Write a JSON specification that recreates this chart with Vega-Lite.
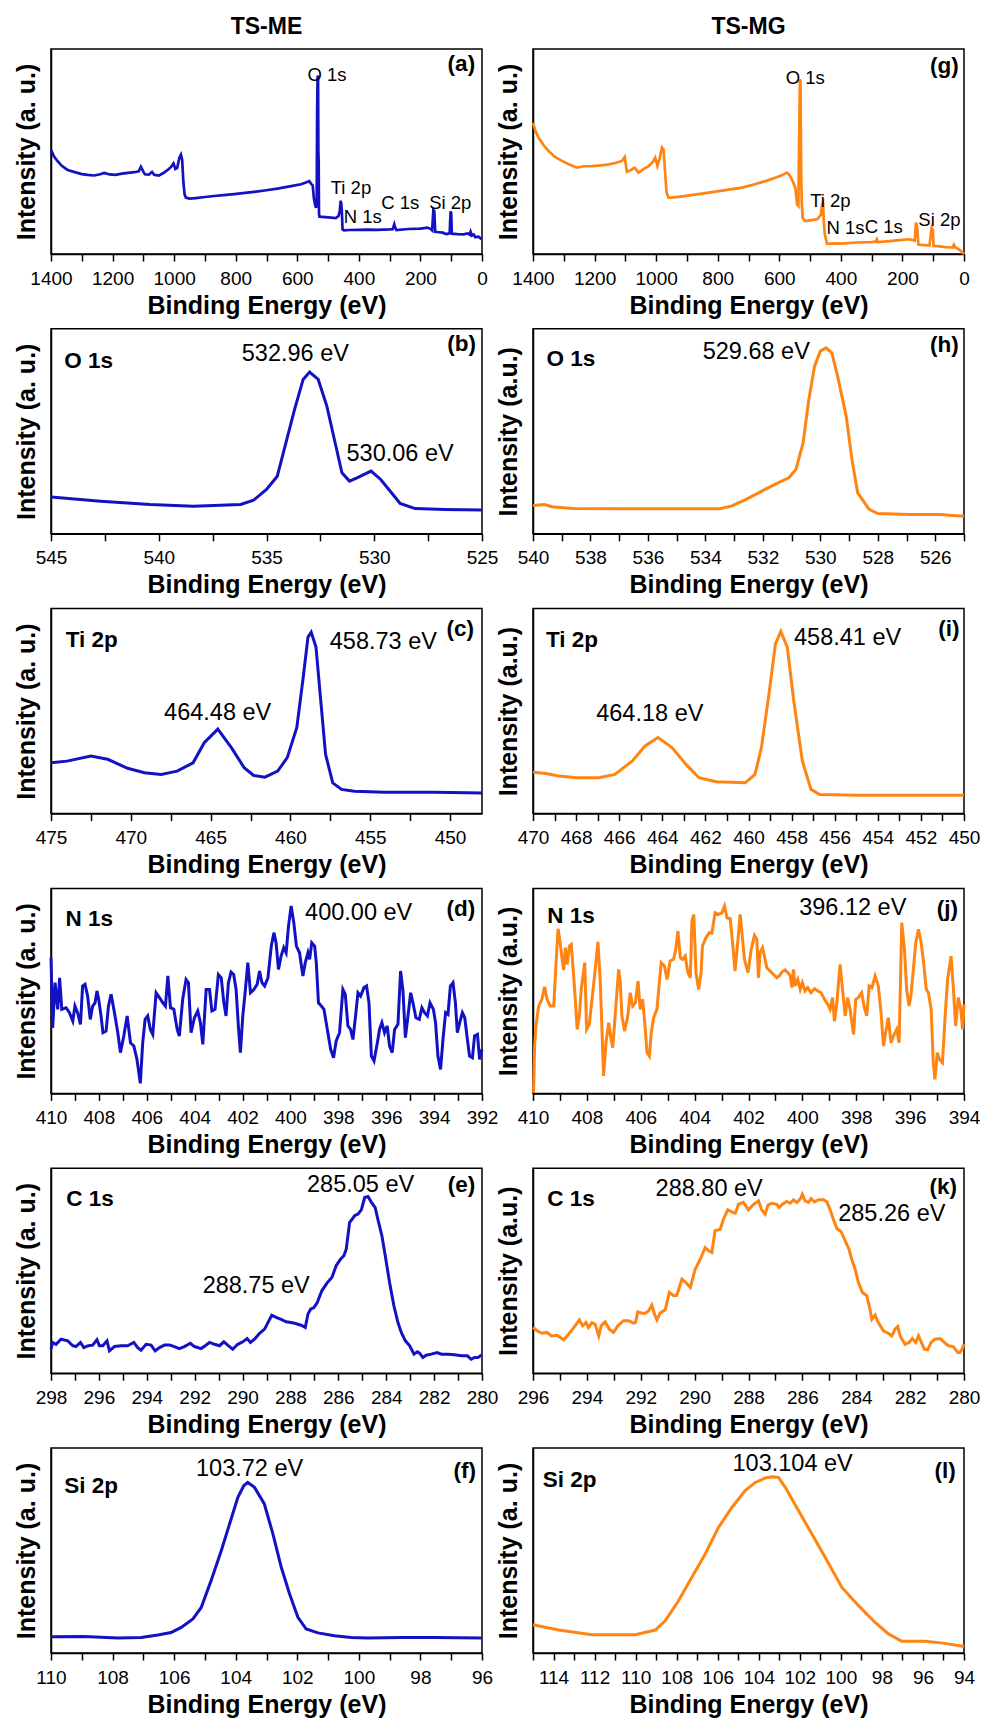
{
"$schema": "https://vega.github.io/schema/vega-lite/v6.json",
"padding": {"left": 13, "top": 15, "right": 0, "bottom": 0},
"background": "white",
"columns": 2,
"spacing": {"row": 74.8, "column": 51},
"bounds": "flush",
"config": {
  "font": "Liberation Sans",
  "view": {"stroke": "black", "strokeWidth": 1.5},
  "axis": {"domainColor": "black", "domainWidth": 1.5, "tickColor": "black", "tickWidth": 1.5, "grid": false, "labelColor": "black", "titleColor": "black", "labelFont": "Liberation Sans", "titleFont": "Liberation Sans"},
  "axisX": {"labelFontSize": 19, "tickSize": 7, "labelPadding": 8, "labelFlush": false, "labelOverlap": false, "titleFontSize": 25, "titleFontWeight": "bold", "titlePadding": 5},
  "axisY": {"labels": false, "ticks": false, "titleFontSize": 25, "titleFontWeight": "bold", "titlePadding": 12},
  "title": {"fontSize": 23, "fontWeight": "bold", "offset": 10, "color": "black", "font": "Liberation Sans"},
  "text": {"font": "Liberation Sans", "color": "black", "align": "center", "baseline": "middle"},
  "line": {"strokeWidth": 3, "clip": true}
},
"datasets": {
"a": [{"x":1400,"y":50.8},{"x":1390,"y":47.5},{"x":1380,"y":45.5},{"x":1365,"y":43},{"x":1346,"y":41},{"x":1320,"y":39.8},{"x":1300,"y":39},{"x":1281,"y":38.6},{"x":1260,"y":38.3},{"x":1240,"y":38.9},{"x":1227,"y":39.5},{"x":1210,"y":38.8},{"x":1190,"y":38.6},{"x":1170,"y":39.2},{"x":1150,"y":39.6},{"x":1129,"y":39.9},{"x":1115,"y":40.3},{"x":1108,"y":42.5},{"x":1100,"y":40.2},{"x":1095,"y":38.9},{"x":1082,"y":38.7},{"x":1072,"y":40.0},{"x":1065,"y":38.6},{"x":1050,"y":38.2},{"x":1035,"y":39.5},{"x":1021,"y":41},{"x":1010,"y":42.5},{"x":1002,"y":44.2},{"x":996,"y":41.5},{"x":990,"y":42},{"x":983,"y":47},{"x":978,"y":48.5},{"x":974,"y":46},{"x":970,"y":35},{"x":966,"y":29},{"x":962,"y":27.5},{"x":950,"y":27},{"x":930,"y":27.3},{"x":900,"y":27.8},{"x":870,"y":28.3},{"x":840,"y":28.7},{"x":805,"y":29.2},{"x":770,"y":29.8},{"x":740,"y":30.3},{"x":700,"y":31.1},{"x":660,"y":32},{"x":620,"y":33.1},{"x":588,"y":34},{"x":570,"y":35},{"x":561,"y":35.5},{"x":555,"y":34.2},{"x":550,"y":33.5},{"x":546,"y":27},{"x":542,"y":24},{"x":539,"y":22.5},{"x":537,"y":25},{"x":535.5,"y":70},{"x":534,"y":87},{"x":532.5,"y":86},{"x":531.5,"y":50},{"x":530.5,"y":45},{"x":529.5,"y":20},{"x":528,"y":18.2},{"x":510,"y":18},{"x":490,"y":17.7},{"x":475,"y":17.5},{"x":466,"y":18.5},{"x":462,"y":21},{"x":459,"y":26},{"x":457,"y":24.5},{"x":455,"y":20},{"x":453,"y":12},{"x":448,"y":11.5},{"x":430,"y":11.7},{"x":400,"y":11.8},{"x":371,"y":11.9},{"x":340,"y":11.8},{"x":300,"y":12},{"x":290,"y":12.1},{"x":285,"y":14.5},{"x":282,"y":12.8},{"x":278,"y":11.7},{"x":240,"y":12.2},{"x":200,"y":12.4},{"x":177,"y":12.9},{"x":168,"y":12.3},{"x":162,"y":11.5},{"x":158,"y":21.5},{"x":155,"y":21},{"x":152,"y":10.8},{"x":140,"y":10.6},{"x":127,"y":10.4},{"x":118,"y":9.8},{"x":113,"y":9.7},{"x":105,"y":10.2},{"x":102,"y":20.8},{"x":100,"y":20},{"x":98,"y":9.9},{"x":80,"y":9.7},{"x":60,"y":9.6},{"x":46,"y":10},{"x":40,"y":9.4},{"x":37,"y":10.8},{"x":33,"y":9},{"x":27,"y":9.5},{"x":22,"y":8.2},{"x":12,"y":8.5},{"x":3,"y":7.5},{"x":0,"y":7.4}],
"g": [{"x":1400,"y":64},{"x":1392,"y":60},{"x":1382,"y":56.7},{"x":1365,"y":53},{"x":1349,"y":50.2},{"x":1330,"y":47.5},{"x":1306,"y":45.4},{"x":1280,"y":43.5},{"x":1257,"y":42.1},{"x":1235,"y":42.8},{"x":1208,"y":42.9},{"x":1180,"y":43.2},{"x":1154,"y":43.7},{"x":1130,"y":44.5},{"x":1111,"y":45.4},{"x":1102,"y":47.3},{"x":1095,"y":40.1},{"x":1082,"y":41},{"x":1070,"y":42.1},{"x":1057,"y":39.7},{"x":1040,"y":41.5},{"x":1024,"y":42.9},{"x":1010,"y":45},{"x":1003,"y":47},{"x":996,"y":43},{"x":988,"y":47},{"x":981,"y":51.9},{"x":976,"y":51},{"x":970,"y":38},{"x":966,"y":30},{"x":960,"y":27.5},{"x":950,"y":27.5},{"x":920,"y":28},{"x":880,"y":28.8},{"x":829,"y":29.9},{"x":780,"y":31},{"x":721,"y":32.4},{"x":680,"y":34},{"x":640,"y":35.8},{"x":613,"y":37.2},{"x":590,"y":38.5},{"x":575,"y":39.7},{"x":567,"y":38.5},{"x":558,"y":36},{"x":548,"y":32.4},{"x":542,"y":24.2},{"x":538,"y":23.5},{"x":536,"y":50},{"x":533,"y":85.2},{"x":531,"y":84},{"x":530,"y":60},{"x":529,"y":40},{"x":527,"y":25},{"x":524,"y":17.7},{"x":516,"y":16.1},{"x":495,"y":16.5},{"x":477,"y":16.9},{"x":465,"y":19},{"x":461,"y":24.2},{"x":458,"y":25},{"x":455,"y":15},{"x":452,"y":9.6},{"x":445,"y":5.0},{"x":420,"y":5.2},{"x":400,"y":5.1},{"x":350,"y":5.6},{"x":300,"y":5.8},{"x":288,"y":6},{"x":283,"y":7.2},{"x":280,"y":5.8},{"x":250,"y":6.2},{"x":210,"y":6.8},{"x":180,"y":7.2},{"x":165,"y":6.8},{"x":160,"y":6.5},{"x":156,"y":15.3},{"x":152,"y":13},{"x":148,"y":4.6},{"x":130,"y":4.3},{"x":112,"y":4.2},{"x":105,"y":12.8},{"x":101,"y":11.5},{"x":99,"y":4},{"x":80,"y":3.7},{"x":60,"y":3.4},{"x":45,"y":3.3},{"x":37,"y":3.1},{"x":33,"y":4.6},{"x":28,"y":3.2},{"x":20,"y":2.6},{"x":10,"y":1.5},{"x":0,"y":0}],
"b": [{"x":545,"y":17.9},{"x":542.7,"y":15.9},{"x":540.4,"y":14.3},{"x":538.4,"y":13.5},{"x":536.2,"y":14.3},{"x":535.6,"y":16.4},{"x":535,"y":21.6},{"x":534.5,"y":28.1},{"x":534.1,"y":44.4},{"x":533.7,"y":60.6},{"x":533.3,"y":75.3},{"x":533.0,"y":78.9},{"x":532.6,"y":75.3},{"x":532.2,"y":62.3},{"x":531.85,"y":46},{"x":531.5,"y":29.8},{"x":531.15,"y":25.7},{"x":530.8,"y":27.3},{"x":530.15,"y":30.6},{"x":529.7,"y":26.5},{"x":529.2,"y":20},{"x":528.8,"y":14.8},{"x":528.1,"y":12.3},{"x":526.75,"y":11.9},{"x":525,"y":11.6}],
"h": [{"x":540,"y":13.8},{"x":539.6,"y":14.3},{"x":539.34,"y":13.2},{"x":538.6,"y":12.3},{"x":536.8,"y":12.2},{"x":533.5,"y":12.2},{"x":533.1,"y":13.5},{"x":532.6,"y":16.7},{"x":532.15,"y":20},{"x":531.6,"y":24},{"x":531.1,"y":27.3},{"x":530.85,"y":31.4},{"x":530.6,"y":44.4},{"x":530.4,"y":65.5},{"x":530.2,"y":81.8},{"x":530.0,"y":89.1},{"x":529.8,"y":90.7},{"x":529.6,"y":88.3},{"x":529.4,"y":76.9},{"x":529.1,"y":57.4},{"x":528.9,"y":36.2},{"x":528.7,"y":20},{"x":528.3,"y":11.9},{"x":528.0,"y":9.9},{"x":526.9,"y":9.4},{"x":525.8,"y":9.4},{"x":525.5,"y":9},{"x":525,"y":8.6}],
"c": [{"x":475,"y":24.8},{"x":474,"y":25.6},{"x":472.5,"y":28.1},{"x":471.45,"y":26.5},{"x":470.2,"y":22.1},{"x":469.15,"y":19.9},{"x":468.1,"y":19.1},{"x":467.1,"y":20.7},{"x":466.1,"y":24.8},{"x":465.4,"y":34.6},{"x":464.55,"y":41.2},{"x":463.7,"y":32.2},{"x":462.9,"y":22.4},{"x":462.3,"y":18.6},{"x":461.6,"y":17.8},{"x":460.8,"y":20.7},{"x":460.2,"y":27.3},{"x":459.6,"y":42},{"x":459.2,"y":66.5},{"x":458.9,"y":86.1},{"x":458.7,"y":88.5},{"x":458.4,"y":81.2},{"x":458.1,"y":55},{"x":457.8,"y":28.9},{"x":457.35,"y":15},{"x":456.8,"y":11.8},{"x":456.0,"y":10.9},{"x":454.1,"y":10.4},{"x":451,"y":10.4},{"x":448,"y":10.1}],
"i": [{"x":470,"y":20.2},{"x":469.4,"y":19.6},{"x":468.8,"y":18.3},{"x":468.0,"y":17.5},{"x":466.95,"y":17.5},{"x":466.2,"y":19.1},{"x":465.4,"y":25.6},{"x":464.8,"y":33},{"x":464.2,"y":37.1},{"x":463.55,"y":32.2},{"x":462.9,"y":24},{"x":462.3,"y":17.5},{"x":461.5,"y":15.5},{"x":460.15,"y":15},{"x":459.7,"y":19.1},{"x":459.4,"y":32.2},{"x":459.05,"y":58.3},{"x":458.75,"y":82.8},{"x":458.5,"y":88.9},{"x":458.2,"y":81.2},{"x":457.9,"y":55},{"x":457.5,"y":25.6},{"x":457.1,"y":11.8},{"x":456.7,"y":9.3},{"x":454.9,"y":9},{"x":450,"y":9}],
"d": [{"x":410.00,"y":66.2},{"x":409.93,"y":32.0},{"x":409.83,"y":54.0},{"x":409.72,"y":41.0},{"x":409.64,"y":56.4},{"x":409.55,"y":41.0},{"x":409.37,"y":41.8},{"x":409.23,"y":39.4},{"x":409.09,"y":35.3},{"x":409.00,"y":42.6},{"x":408.89,"y":39.4},{"x":408.77,"y":33.7},{"x":408.68,"y":52.4},{"x":408.58,"y":53.2},{"x":408.47,"y":47.5},{"x":408.36,"y":36.1},{"x":408.26,"y":42.6},{"x":408.16,"y":44.2},{"x":408.08,"y":50.0},{"x":408.01,"y":45.9},{"x":407.91,"y":37.8},{"x":407.83,"y":29.6},{"x":407.70,"y":30.4},{"x":407.60,"y":42.6},{"x":407.49,"y":48.3},{"x":407.35,"y":39.4},{"x":407.21,"y":29.6},{"x":407.10,"y":19.9},{"x":406.96,"y":28.0},{"x":406.82,"y":37.8},{"x":406.68,"y":24.7},{"x":406.54,"y":23.1},{"x":406.41,"y":16.6},{"x":406.27,"y":4.9},{"x":406.17,"y":24.7},{"x":406.07,"y":36.1},{"x":405.96,"y":37.8},{"x":405.85,"y":31.2},{"x":405.75,"y":28.8},{"x":405.61,"y":49.1},{"x":405.47,"y":46.7},{"x":405.33,"y":44.2},{"x":405.22,"y":42.6},{"x":405.12,"y":57.3},{"x":405.01,"y":41.8},{"x":404.87,"y":41.0},{"x":404.73,"y":31.2},{"x":404.64,"y":28.0},{"x":404.50,"y":45.9},{"x":404.36,"y":55.6},{"x":404.26,"y":54.0},{"x":404.15,"y":29.6},{"x":404.01,"y":36.9},{"x":403.87,"y":40.2},{"x":403.76,"y":34.5},{"x":403.66,"y":23.9},{"x":403.52,"y":50.7},{"x":403.38,"y":50.7},{"x":403.28,"y":40.2},{"x":403.15,"y":41.0},{"x":403.01,"y":58.0},{"x":402.89,"y":56.4},{"x":402.78,"y":44.2},{"x":402.69,"y":37.8},{"x":402.59,"y":54.0},{"x":402.48,"y":59.2},{"x":402.37,"y":58.0},{"x":402.27,"y":50.7},{"x":402.17,"y":32.0},{"x":402.09,"y":19.9},{"x":401.99,"y":37.8},{"x":401.88,"y":50.7},{"x":401.78,"y":63.8},{"x":401.67,"y":49.1},{"x":401.53,"y":50.7},{"x":401.39,"y":53.2},{"x":401.29,"y":59.7},{"x":401.19,"y":54.0},{"x":401.08,"y":52.4},{"x":400.94,"y":56.4},{"x":400.80,"y":71.9},{"x":400.69,"y":78.4},{"x":400.60,"y":73.5},{"x":400.50,"y":60.5},{"x":400.39,"y":67.0},{"x":400.28,"y":71.1},{"x":400.18,"y":68.6},{"x":400.08,"y":81.7},{"x":399.97,"y":91.4},{"x":399.86,"y":83.3},{"x":399.75,"y":71.9},{"x":399.62,"y":68.6},{"x":399.48,"y":57.3},{"x":399.38,"y":63.8},{"x":399.27,"y":68.6},{"x":399.20,"y":65.4},{"x":399.11,"y":73.5},{"x":398.99,"y":71.9},{"x":398.92,"y":63.8},{"x":398.83,"y":44.2},{"x":398.71,"y":42.6},{"x":398.60,"y":41.0},{"x":398.46,"y":31.2},{"x":398.32,"y":21.5},{"x":398.20,"y":17.4},{"x":398.09,"y":25.6},{"x":397.95,"y":29.6},{"x":397.81,"y":50.7},{"x":397.71,"y":48.3},{"x":397.60,"y":32.9},{"x":397.49,"y":31.2},{"x":397.39,"y":26.3},{"x":397.28,"y":37.8},{"x":397.18,"y":49.1},{"x":397.07,"y":47.5},{"x":396.93,"y":51.6},{"x":396.82,"y":52.4},{"x":396.72,"y":44.2},{"x":396.62,"y":18.2},{"x":396.51,"y":15.8},{"x":396.37,"y":24.7},{"x":396.28,"y":31.2},{"x":396.18,"y":34.5},{"x":396.07,"y":29.6},{"x":395.96,"y":32.9},{"x":395.86,"y":23.1},{"x":395.75,"y":19.9},{"x":395.65,"y":31.2},{"x":395.51,"y":33.7},{"x":395.40,"y":59.7},{"x":395.30,"y":50.0},{"x":395.20,"y":27.2},{"x":395.09,"y":37.8},{"x":394.98,"y":49.1},{"x":394.87,"y":43.4},{"x":394.76,"y":36.9},{"x":394.62,"y":36.1},{"x":394.51,"y":41.8},{"x":394.40,"y":39.4},{"x":394.28,"y":37.8},{"x":394.17,"y":44.2},{"x":394.03,"y":41.0},{"x":393.94,"y":34.5},{"x":393.84,"y":18.2},{"x":393.73,"y":11.7},{"x":393.63,"y":26.3},{"x":393.52,"y":39.4},{"x":393.42,"y":38.5},{"x":393.32,"y":52.4},{"x":393.21,"y":54.0},{"x":393.11,"y":44.2},{"x":393.03,"y":29.6},{"x":392.93,"y":34.5},{"x":392.82,"y":39.4},{"x":392.72,"y":36.9},{"x":392.61,"y":26.3},{"x":392.52,"y":18.2},{"x":392.40,"y":17.4},{"x":392.31,"y":28.0},{"x":392.19,"y":28.8},{"x":392.10,"y":16.6},{"x":392.00,"y":21.5}],
"j": [{"x":409.98,"y":0.3},{"x":409.94,"y":23.1},{"x":409.89,"y":32.9},{"x":409.79,"y":42.6},{"x":409.67,"y":45.9},{"x":409.57,"y":52.0},{"x":409.48,"y":45.9},{"x":409.36,"y":42.6},{"x":409.23,"y":42.6},{"x":409.15,"y":62.1},{"x":409.07,"y":80.3},{"x":408.99,"y":73.5},{"x":408.92,"y":65.4},{"x":408.86,"y":60.2},{"x":408.80,"y":71.1},{"x":408.73,"y":62.9},{"x":408.65,"y":71.9},{"x":408.58,"y":72.7},{"x":408.50,"y":58.9},{"x":408.43,"y":45.9},{"x":408.36,"y":31.2},{"x":408.28,"y":37.8},{"x":408.21,"y":50.7},{"x":408.08,"y":63.8},{"x":408.01,"y":31.2},{"x":407.91,"y":33.7},{"x":407.81,"y":45.9},{"x":407.69,"y":60.5},{"x":407.59,"y":73.9},{"x":407.50,"y":54.0},{"x":407.38,"y":8.5},{"x":407.29,"y":24.7},{"x":407.19,"y":34.5},{"x":407.12,"y":28.0},{"x":407.04,"y":22.3},{"x":406.95,"y":37.8},{"x":406.82,"y":60.5},{"x":406.76,"y":54.0},{"x":406.70,"y":37.8},{"x":406.60,"y":30.4},{"x":406.48,"y":37.8},{"x":406.39,"y":49.1},{"x":406.30,"y":42.6},{"x":406.20,"y":44.2},{"x":406.10,"y":54.8},{"x":406.02,"y":41.0},{"x":405.93,"y":45.9},{"x":405.83,"y":31.2},{"x":405.77,"y":19.9},{"x":405.68,"y":18.2},{"x":405.61,"y":29.6},{"x":405.52,"y":36.9},{"x":405.40,"y":41.0},{"x":405.31,"y":54.0},{"x":405.24,"y":63.8},{"x":405.12,"y":62.1},{"x":405.02,"y":55.6},{"x":404.91,"y":64.6},{"x":404.78,"y":65.4},{"x":404.70,"y":70.2},{"x":404.62,"y":79.2},{"x":404.53,"y":66.2},{"x":404.45,"y":65.4},{"x":404.35,"y":67.0},{"x":404.25,"y":58.9},{"x":404.16,"y":56.4},{"x":404.10,"y":84.1},{"x":404.03,"y":87.3},{"x":403.95,"y":58.9},{"x":403.85,"y":50.7},{"x":403.76,"y":58.9},{"x":403.71,"y":71.9},{"x":403.58,"y":75.9},{"x":403.46,"y":78.4},{"x":403.36,"y":78.1},{"x":403.24,"y":88.1},{"x":403.11,"y":87.3},{"x":402.99,"y":88.1},{"x":402.89,"y":91.4},{"x":402.80,"y":85.7},{"x":402.68,"y":85.2},{"x":402.59,"y":73.5},{"x":402.50,"y":59.7},{"x":402.40,"y":73.5},{"x":402.31,"y":87.3},{"x":402.22,"y":75.1},{"x":402.15,"y":65.4},{"x":402.02,"y":58.9},{"x":401.90,"y":70.2},{"x":401.78,"y":77.1},{"x":401.69,"y":75.1},{"x":401.63,"y":56.4},{"x":401.57,"y":68.6},{"x":401.48,"y":71.1},{"x":401.41,"y":67.0},{"x":401.32,"y":61.3},{"x":401.20,"y":59.7},{"x":401.07,"y":58.0},{"x":400.95,"y":56.4},{"x":400.86,"y":57.3},{"x":400.76,"y":59.2},{"x":400.64,"y":60.2},{"x":400.54,"y":58.9},{"x":400.45,"y":57.3},{"x":400.39,"y":51.6},{"x":400.33,"y":60.5},{"x":400.27,"y":52.4},{"x":400.17,"y":55.6},{"x":400.08,"y":50.7},{"x":400.00,"y":54.0},{"x":399.90,"y":50.0},{"x":399.80,"y":51.6},{"x":399.68,"y":49.1},{"x":399.55,"y":51.1},{"x":399.43,"y":50.0},{"x":399.30,"y":49.1},{"x":399.18,"y":45.9},{"x":399.06,"y":43.4},{"x":398.97,"y":41.0},{"x":398.88,"y":46.7},{"x":398.81,"y":35.3},{"x":398.72,"y":44.2},{"x":398.60,"y":62.9},{"x":398.51,"y":50.7},{"x":398.41,"y":37.8},{"x":398.32,"y":46.7},{"x":398.23,"y":41.0},{"x":398.10,"y":28.8},{"x":398.02,"y":45.9},{"x":397.92,"y":46.7},{"x":397.80,"y":49.1},{"x":397.70,"y":41.8},{"x":397.61,"y":37.8},{"x":397.52,"y":52.4},{"x":397.42,"y":51.6},{"x":397.30,"y":57.3},{"x":397.18,"y":52.4},{"x":397.08,"y":39.4},{"x":396.99,"y":23.1},{"x":396.91,"y":29.6},{"x":396.81,"y":36.9},{"x":396.71,"y":24.7},{"x":396.62,"y":28.0},{"x":396.50,"y":31.2},{"x":396.41,"y":24.7},{"x":396.31,"y":83.3},{"x":396.21,"y":70.2},{"x":396.13,"y":50.7},{"x":396.04,"y":42.6},{"x":395.97,"y":47.5},{"x":395.88,"y":60.5},{"x":395.79,"y":73.5},{"x":395.69,"y":80.0},{"x":395.59,"y":73.5},{"x":395.50,"y":63.8},{"x":395.40,"y":50.7},{"x":395.32,"y":49.1},{"x":395.22,"y":41.0},{"x":395.14,"y":15.0},{"x":395.08,"y":6.8},{"x":394.99,"y":19.9},{"x":394.91,"y":16.6},{"x":394.80,"y":15.0},{"x":394.70,"y":37.8},{"x":394.61,"y":55.6},{"x":394.48,"y":67.0},{"x":394.40,"y":52.4},{"x":394.31,"y":32.9},{"x":394.21,"y":46.7},{"x":394.12,"y":41.0},{"x":394.05,"y":31.2},{"x":394.00,"y":43.4}],
"e": [{"x":298.00,"y":11.7},{"x":297.93,"y":15.0},{"x":297.79,"y":14.1},{"x":297.58,"y":16.6},{"x":297.30,"y":15.8},{"x":297.09,"y":13.4},{"x":296.96,"y":13.0},{"x":296.77,"y":15.0},{"x":296.63,"y":12.5},{"x":296.44,"y":13.4},{"x":296.26,"y":13.7},{"x":296.08,"y":16.3},{"x":295.98,"y":13.4},{"x":295.84,"y":13.4},{"x":295.66,"y":15.8},{"x":295.56,"y":10.9},{"x":295.35,"y":13.0},{"x":295.07,"y":13.4},{"x":294.80,"y":13.4},{"x":294.54,"y":15.0},{"x":294.38,"y":12.5},{"x":294.24,"y":11.2},{"x":294.03,"y":14.1},{"x":293.82,"y":13.7},{"x":293.65,"y":10.9},{"x":293.47,"y":12.5},{"x":293.26,"y":13.7},{"x":293.05,"y":13.7},{"x":292.85,"y":13.0},{"x":292.64,"y":12.0},{"x":292.43,"y":13.0},{"x":292.18,"y":14.6},{"x":292.01,"y":13.0},{"x":291.73,"y":12.0},{"x":291.56,"y":13.4},{"x":291.38,"y":15.0},{"x":291.17,"y":14.1},{"x":290.96,"y":13.4},{"x":290.78,"y":15.3},{"x":290.62,"y":13.7},{"x":290.41,"y":11.7},{"x":290.20,"y":14.1},{"x":289.99,"y":15.3},{"x":289.81,"y":16.9},{"x":289.67,"y":15.0},{"x":289.50,"y":16.6},{"x":289.29,"y":19.5},{"x":289.08,"y":21.5},{"x":288.94,"y":24.7},{"x":288.78,"y":28.3},{"x":288.60,"y":27.2},{"x":288.39,"y":26.3},{"x":288.18,"y":25.1},{"x":287.97,"y":24.7},{"x":287.83,"y":24.4},{"x":287.69,"y":23.9},{"x":287.55,"y":23.4},{"x":287.38,"y":22.3},{"x":287.27,"y":28.8},{"x":287.16,"y":31.2},{"x":287.02,"y":32.0},{"x":286.88,"y":34.5},{"x":286.69,"y":40.2},{"x":286.46,"y":44.2},{"x":286.27,"y":46.7},{"x":286.09,"y":52.4},{"x":285.91,"y":55.6},{"x":285.77,"y":57.3},{"x":285.67,"y":60.5},{"x":285.53,"y":73.5},{"x":285.32,"y":76.8},{"x":285.18,"y":77.6},{"x":285.04,"y":79.7},{"x":284.90,"y":85.7},{"x":284.76,"y":86.2},{"x":284.63,"y":83.6},{"x":284.46,"y":80.8},{"x":284.35,"y":75.1},{"x":284.18,"y":67.0},{"x":284.04,"y":57.3},{"x":283.86,"y":44.2},{"x":283.68,"y":32.9},{"x":283.51,"y":24.7},{"x":283.37,"y":19.9},{"x":283.20,"y":15.8},{"x":283.02,"y":13.4},{"x":282.84,"y":9.3},{"x":282.70,"y":10.4},{"x":282.61,"y":9.8},{"x":282.47,"y":7.7},{"x":282.33,"y":8.8},{"x":282.12,"y":9.3},{"x":281.87,"y":10.1},{"x":281.70,"y":9.3},{"x":281.42,"y":9.3},{"x":281.14,"y":9.0},{"x":280.86,"y":8.5},{"x":280.61,"y":8.5},{"x":280.45,"y":6.8},{"x":280.31,"y":7.7},{"x":280.17,"y":7.7},{"x":280.00,"y":9.0}],
"k": [{"x":296.00,"y":22.3},{"x":295.85,"y":20.7},{"x":295.67,"y":19.5},{"x":295.48,"y":19.9},{"x":295.32,"y":18.2},{"x":295.11,"y":18.5},{"x":294.86,"y":16.3},{"x":294.68,"y":19.0},{"x":294.45,"y":22.8},{"x":294.28,"y":26.0},{"x":294.16,"y":23.1},{"x":294.03,"y":24.7},{"x":293.94,"y":22.3},{"x":293.81,"y":24.7},{"x":293.69,"y":23.9},{"x":293.56,"y":18.2},{"x":293.47,"y":23.1},{"x":293.32,"y":25.1},{"x":293.17,"y":21.5},{"x":293.01,"y":19.9},{"x":292.85,"y":23.1},{"x":292.64,"y":25.6},{"x":292.45,"y":25.6},{"x":292.27,"y":24.4},{"x":292.20,"y":24.7},{"x":292.11,"y":29.9},{"x":291.96,"y":29.3},{"x":291.83,"y":29.3},{"x":291.71,"y":30.4},{"x":291.59,"y":33.2},{"x":291.49,"y":28.8},{"x":291.40,"y":26.0},{"x":291.28,"y":29.3},{"x":291.09,"y":30.9},{"x":290.94,"y":39.4},{"x":290.78,"y":37.8},{"x":290.66,"y":38.0},{"x":290.47,"y":45.9},{"x":290.35,"y":44.6},{"x":290.16,"y":41.8},{"x":289.98,"y":50.7},{"x":289.79,"y":55.6},{"x":289.61,"y":61.3},{"x":289.48,"y":59.7},{"x":289.36,"y":58.9},{"x":289.24,"y":69.5},{"x":289.05,"y":70.2},{"x":288.93,"y":75.1},{"x":288.77,"y":79.7},{"x":288.62,"y":78.7},{"x":288.49,"y":78.0},{"x":288.37,"y":82.4},{"x":288.19,"y":83.3},{"x":288.00,"y":79.7},{"x":287.81,"y":82.4},{"x":287.63,"y":84.1},{"x":287.51,"y":79.7},{"x":287.38,"y":77.6},{"x":287.28,"y":82.0},{"x":287.13,"y":82.9},{"x":286.95,"y":82.4},{"x":286.86,"y":80.8},{"x":286.74,"y":82.4},{"x":286.58,"y":83.8},{"x":286.45,"y":82.9},{"x":286.33,"y":84.6},{"x":286.21,"y":83.3},{"x":286.08,"y":84.9},{"x":286.00,"y":87.3},{"x":285.90,"y":84.1},{"x":285.77,"y":83.3},{"x":285.68,"y":85.2},{"x":285.55,"y":83.6},{"x":285.40,"y":84.6},{"x":285.22,"y":84.6},{"x":285.09,"y":83.6},{"x":284.97,"y":79.7},{"x":284.85,"y":75.1},{"x":284.72,"y":70.6},{"x":284.56,"y":69.0},{"x":284.41,"y":64.6},{"x":284.27,"y":60.5},{"x":284.17,"y":55.6},{"x":284.04,"y":50.7},{"x":283.92,"y":44.2},{"x":283.77,"y":39.4},{"x":283.61,"y":37.8},{"x":283.52,"y":32.9},{"x":283.42,"y":26.3},{"x":283.30,"y":28.3},{"x":283.18,"y":24.7},{"x":282.99,"y":20.7},{"x":282.81,"y":19.5},{"x":282.68,"y":18.2},{"x":282.56,"y":21.5},{"x":282.46,"y":22.8},{"x":282.37,"y":18.2},{"x":282.29,"y":16.3},{"x":282.19,"y":14.1},{"x":282.04,"y":15.0},{"x":281.92,"y":16.9},{"x":281.79,"y":15.0},{"x":281.69,"y":18.2},{"x":281.59,"y":15.3},{"x":281.47,"y":11.7},{"x":281.35,"y":11.4},{"x":281.22,"y":15.0},{"x":281.08,"y":16.6},{"x":280.89,"y":16.9},{"x":280.73,"y":15.0},{"x":280.58,"y":13.4},{"x":280.40,"y":13.0},{"x":280.23,"y":10.1},{"x":280.15,"y":10.1},{"x":280.06,"y":12.0},{"x":280.00,"y":14.1}],
"f": [{"x":110.00,"y":7.95},{"x":108.92,"y":8.1},{"x":107.83,"y":7.3},{"x":107.07,"y":7.6},{"x":106.53,"y":8.8},{"x":106.10,"y":10.0},{"x":105.77,"y":12.5},{"x":105.39,"y":16.6},{"x":105.12,"y":22.2},{"x":104.80,"y":35.3},{"x":104.47,"y":49.9},{"x":104.20,"y":62.9},{"x":103.93,"y":75.9},{"x":103.74,"y":81.6},{"x":103.61,"y":83.2},{"x":103.39,"y":80.8},{"x":103.07,"y":72.7},{"x":102.79,"y":58.0},{"x":102.52,"y":41.8},{"x":102.25,"y":28.8},{"x":101.98,"y":17.4},{"x":101.71,"y":11.7},{"x":101.33,"y":9.8},{"x":100.79,"y":8.4},{"x":100.25,"y":7.6},{"x":99.71,"y":7.3},{"x":98.62,"y":7.6},{"x":97.54,"y":7.6},{"x":96.00,"y":7.3}],
"l": [{"x":115.00,"y":13.8},{"x":113.75,"y":11.2},{"x":112.13,"y":8.9},{"x":110.02,"y":8.9},{"x":109.04,"y":11.2},{"x":108.55,"y":15.8},{"x":107.91,"y":25.5},{"x":107.26,"y":36.9},{"x":106.61,"y":48.3},{"x":105.96,"y":61.3},{"x":105.31,"y":71.0},{"x":104.66,"y":79.2},{"x":104.17,"y":83.2},{"x":103.68,"y":85.4},{"x":103.36,"y":86.0},{"x":103.04,"y":85.7},{"x":102.71,"y":80.8},{"x":102.06,"y":69.4},{"x":101.41,"y":58.0},{"x":100.76,"y":46.6},{"x":99.95,"y":32.0},{"x":99.14,"y":23.1},{"x":98.33,"y":14.9},{"x":97.68,"y":9.3},{"x":97.03,"y":5.7},{"x":95.89,"y":5.7},{"x":94.92,"y":4.7},{"x":94.00,"y":3.2}],
"a_r": [{"x":503.6,"y":87.3,"t":"O 1s"},{"x":425.6,"y":32.0,"t":"Ti 2p"},{"x":387.7,"y":18.1,"t":"N 1s"},{"x":265.5,"y":24.7,"t":"C 1s"},{"x":103,"y":24.7,"t":"Si 2p"}],
"a_b": [{"x":67,"y":92.5,"t":"(a)"}],
"g_r": [{"x":515.6,"y":86,"t":"O 1s"},{"x":434,"y":25.9,"t":"Ti 2p"},{"x":385,"y":12.5,"t":"N 1s"},{"x":261,"y":13.2,"t":"C 1s"},{"x":80,"y":16.4,"t":"Si 2p"}],
"g_b": [{"x":64,"y":91.7,"t":"(g)"}],
"b_r": [{"x":533.66,"y":87.5,"t":"532.96 eV"},{"x":528.8,"y":38.7,"t":"530.06 eV"}],
"b_b": [{"x":543.25,"y":84.5,"t":"O 1s"},{"x":525.95,"y":92.7,"t":"(b)"}],
"h_r": [{"x":532.23,"y":88.8,"t":"529.68 eV"}],
"h_b": [{"x":538.68,"y":85.4,"t":"O 1s"},{"x":525.68,"y":92.3,"t":"(h)"}],
"c_r": [{"x":464.56,"y":49.3,"t":"464.48 eV"},{"x":454.18,"y":83.6,"t":"458.73 eV"}],
"c_b": [{"x":472.45,"y":84.5,"t":"Ti 2p"},{"x":449.36,"y":90.2,"t":"(c)"}],
"i_r": [{"x":464.58,"y":48.5,"t":"464.18 eV"},{"x":455.4,"y":85.8,"t":"458.41 eV"}],
"i_b": [{"x":468.19,"y":84.5,"t":"Ti 2p"},{"x":450.7,"y":90.2,"t":"(i)"}],
"d_r": [{"x":397.15,"y":88.1,"t":"400.00 eV"}],
"d_b": [{"x":408.4,"y":85.2,"t":"N 1s"},{"x":392.88,"y":89.8,"t":"(d)"}],
"j_r": [{"x":398.13,"y":90.2,"t":"396.12 eV"}],
"j_b": [{"x":408.59,"y":86.5,"t":"N 1s"},{"x":394.62,"y":90.1,"t":"(j)"}],
"e_r": [{"x":285.07,"y":91.7,"t":"285.05 eV"},{"x":289.43,"y":42.6,"t":"288.75 eV"}],
"e_b": [{"x":296.37,"y":85.2,"t":"C 1s"},{"x":280.86,"y":91.7,"t":"(e)"}],
"k_r": [{"x":289.46,"y":89.8,"t":"288.80 eV"},{"x":282.68,"y":77.9,"t":"285.26 eV"}],
"k_b": [{"x":294.59,"y":85.0,"t":"C 1s"},{"x":280.77,"y":90.9,"t":"(k)"}],
"f_r": [{"x":103.55,"y":89.8,"t":"103.72 eV"}],
"f_b": [{"x":108.70,"y":81.6,"t":"Si 2p"},{"x":96.56,"y":88.9,"t":"(f)"}],
"l_r": [{"x":102.35,"y":92.2,"t":"103.104 eV"}],
"l_b": [{"x":113.21,"y":84.5,"t":"Si 2p"},{"x":94.92,"y":88.9,"t":"(l)"}]
},
"concat": [
{"title": "TS-ME", "width": 431, "height": 205,
 "encoding": {"x": {"field": "x", "type": "quantitative", "scale": {"domain": [0, 1400], "reverse": true, "nice": false, "zero": false}, "axis": {"title": "Binding Energy (eV)", "values": [0,100,200,300,400,500,600,700,800,900,1000,1100,1200,1300,1400], "format": "d", "labelExpr": "datum.value % 200 === 0 ? datum.label : ''"}},
  "y": {"field": "y", "type": "quantitative", "scale": {"domain": [0, 100], "nice": false, "zero": false}, "axis": {"title": "Intensity (a. u.)"}}},
 "layer": [
  {"data": {"name": "a"}, "mark": {"type": "line", "color": "#1212c4", "strokeWidth": 2.7}, "encoding": {}},
  {"data": {"name": "a_r"}, "mark": {"type": "text", "fontSize": 18.5}, "encoding": {"text": {"field": "t"}}},
  {"data": {"name": "a_b"}, "mark": {"type": "text", "fontSize": 22.5, "fontWeight": "bold"}, "encoding": {"text": {"field": "t"}}}
 ]},
{"title": "TS-MG", "width": 431, "height": 205,
 "encoding": {"x": {"field": "x", "type": "quantitative", "scale": {"domain": [0, 1400], "reverse": true, "nice": false, "zero": false}, "axis": {"title": "Binding Energy (eV)", "values": [0,100,200,300,400,500,600,700,800,900,1000,1100,1200,1300,1400], "format": "d", "labelExpr": "datum.value % 200 === 0 ? datum.label : ''"}},
  "y": {"field": "y", "type": "quantitative", "scale": {"domain": [0, 100], "nice": false, "zero": false}, "axis": {"title": "Intensity (a. u.)"}}},
 "layer": [
  {"data": {"name": "g"}, "mark": {"type": "line", "color": "#ff8412", "strokeWidth": 2.7}, "encoding": {}},
  {"data": {"name": "g_r"}, "mark": {"type": "text", "fontSize": 18.5}, "encoding": {"text": {"field": "t"}}},
  {"data": {"name": "g_b"}, "mark": {"type": "text", "fontSize": 22.5, "fontWeight": "bold"}, "encoding": {"text": {"field": "t"}}}
 ]},
{"width": 431, "height": 205,
 "encoding": {"x": {"field": "x", "type": "quantitative", "scale": {"domain": [525, 545], "reverse": true, "nice": false, "zero": false}, "axis": {"title": "Binding Energy (eV)", "values": [525,527.5,530,532.5,535,537.5,540,542.5,545], "format": "d", "labelExpr": "datum.value % 5 === 0 ? datum.label : ''"}},
  "y": {"field": "y", "type": "quantitative", "scale": {"domain": [0, 100], "nice": false, "zero": false}, "axis": {"title": "Intensity (a. u.)"}}},
 "layer": [
  {"data": {"name": "b"}, "mark": {"type": "line", "color": "#1212c4"}, "encoding": {}},
  {"data": {"name": "b_r"}, "mark": {"type": "text", "fontSize": 23.5}, "encoding": {"text": {"field": "t"}}},
  {"data": {"name": "b_b"}, "mark": {"type": "text", "fontSize": 22.5, "fontWeight": "bold"}, "encoding": {"text": {"field": "t"}}}
 ]},
{"width": 431, "height": 205,
 "encoding": {"x": {"field": "x", "type": "quantitative", "scale": {"domain": [525, 540], "reverse": true, "nice": false, "zero": false}, "axis": {"title": "Binding Energy (eV)", "values": [525,526,527,528,529,530,531,532,533,534,535,536,537,538,539,540], "format": "d", "labelExpr": "datum.value % 2 === 0 ? datum.label : ''"}},
  "y": {"field": "y", "type": "quantitative", "scale": {"domain": [0, 100], "nice": false, "zero": false}, "axis": {"title": "Intensity (a.u.)"}}},
 "layer": [
  {"data": {"name": "h"}, "mark": {"type": "line", "color": "#ff8412"}, "encoding": {}},
  {"data": {"name": "h_r"}, "mark": {"type": "text", "fontSize": 23.5}, "encoding": {"text": {"field": "t"}}},
  {"data": {"name": "h_b"}, "mark": {"type": "text", "fontSize": 22.5, "fontWeight": "bold"}, "encoding": {"text": {"field": "t"}}}
 ]},
{"width": 431, "height": 205,
 "encoding": {"x": {"field": "x", "type": "quantitative", "scale": {"domain": [448, 475], "reverse": true, "nice": false, "zero": false}, "axis": {"title": "Binding Energy (eV)", "values": [450,452.5,455,457.5,460,462.5,465,467.5,470,472.5,475], "format": "d", "labelExpr": "datum.value % 5 === 0 ? datum.label : ''"}},
  "y": {"field": "y", "type": "quantitative", "scale": {"domain": [0, 100], "nice": false, "zero": false}, "axis": {"title": "Intensity (a. u.)"}}},
 "layer": [
  {"data": {"name": "c"}, "mark": {"type": "line", "color": "#1212c4"}, "encoding": {}},
  {"data": {"name": "c_r"}, "mark": {"type": "text", "fontSize": 23.5}, "encoding": {"text": {"field": "t"}}},
  {"data": {"name": "c_b"}, "mark": {"type": "text", "fontSize": 22.5, "fontWeight": "bold"}, "encoding": {"text": {"field": "t"}}}
 ]},
{"width": 431, "height": 205,
 "encoding": {"x": {"field": "x", "type": "quantitative", "scale": {"domain": [450, 470], "reverse": true, "nice": false, "zero": false}, "axis": {"title": "Binding Energy (eV)", "values": [450,451,452,453,454,455,456,457,458,459,460,461,462,463,464,465,466,467,468,469,470], "format": "d", "labelExpr": "datum.value % 2 === 0 ? datum.label : ''"}},
  "y": {"field": "y", "type": "quantitative", "scale": {"domain": [0, 100], "nice": false, "zero": false}, "axis": {"title": "Intensity (a.u.)"}}},
 "layer": [
  {"data": {"name": "i"}, "mark": {"type": "line", "color": "#ff8412"}, "encoding": {}},
  {"data": {"name": "i_r"}, "mark": {"type": "text", "fontSize": 23.5}, "encoding": {"text": {"field": "t"}}},
  {"data": {"name": "i_b"}, "mark": {"type": "text", "fontSize": 22.5, "fontWeight": "bold"}, "encoding": {"text": {"field": "t"}}}
 ]},
{"width": 431, "height": 205,
 "encoding": {"x": {"field": "x", "type": "quantitative", "scale": {"domain": [392, 410], "reverse": true, "nice": false, "zero": false}, "axis": {"title": "Binding Energy (eV)", "values": [392,393,394,395,396,397,398,399,400,401,402,403,404,405,406,407,408,409,410], "format": "d", "labelExpr": "datum.value % 2 === 0 ? datum.label : ''"}},
  "y": {"field": "y", "type": "quantitative", "scale": {"domain": [0, 100], "nice": false, "zero": false}, "axis": {"title": "Intensity (a. u.)"}}},
 "layer": [
  {"data": {"name": "d"}, "mark": {"type": "line", "color": "#1212c4"}, "encoding": {}},
  {"data": {"name": "d_r"}, "mark": {"type": "text", "fontSize": 23.5}, "encoding": {"text": {"field": "t"}}},
  {"data": {"name": "d_b"}, "mark": {"type": "text", "fontSize": 22.5, "fontWeight": "bold"}, "encoding": {"text": {"field": "t"}}}
 ]},
{"width": 431, "height": 205,
 "encoding": {"x": {"field": "x", "type": "quantitative", "scale": {"domain": [394, 410], "reverse": true, "nice": false, "zero": false}, "axis": {"title": "Binding Energy (eV)", "values": [394,395,396,397,398,399,400,401,402,403,404,405,406,407,408,409,410], "format": "d", "labelExpr": "datum.value % 2 === 0 ? datum.label : ''"}},
  "y": {"field": "y", "type": "quantitative", "scale": {"domain": [0, 100], "nice": false, "zero": false}, "axis": {"title": "Intensity (a.u.)"}}},
 "layer": [
  {"data": {"name": "j"}, "mark": {"type": "line", "color": "#ff8412"}, "encoding": {}},
  {"data": {"name": "j_r"}, "mark": {"type": "text", "fontSize": 23.5}, "encoding": {"text": {"field": "t"}}},
  {"data": {"name": "j_b"}, "mark": {"type": "text", "fontSize": 22.5, "fontWeight": "bold"}, "encoding": {"text": {"field": "t"}}}
 ]},
{"width": 431, "height": 205,
 "encoding": {"x": {"field": "x", "type": "quantitative", "scale": {"domain": [280, 298], "reverse": true, "nice": false, "zero": false}, "axis": {"title": "Binding Energy (eV)", "values": [280,281,282,283,284,285,286,287,288,289,290,291,292,293,294,295,296,297,298], "format": "d", "labelExpr": "datum.value % 2 === 0 ? datum.label : ''"}},
  "y": {"field": "y", "type": "quantitative", "scale": {"domain": [0, 100], "nice": false, "zero": false}, "axis": {"title": "Intensity (a. u.)"}}},
 "layer": [
  {"data": {"name": "e"}, "mark": {"type": "line", "color": "#1212c4"}, "encoding": {}},
  {"data": {"name": "e_r"}, "mark": {"type": "text", "fontSize": 23.5}, "encoding": {"text": {"field": "t"}}},
  {"data": {"name": "e_b"}, "mark": {"type": "text", "fontSize": 22.5, "fontWeight": "bold"}, "encoding": {"text": {"field": "t"}}}
 ]},
{"width": 431, "height": 205,
 "encoding": {"x": {"field": "x", "type": "quantitative", "scale": {"domain": [280, 296], "reverse": true, "nice": false, "zero": false}, "axis": {"title": "Binding Energy (eV)", "values": [280,281,282,283,284,285,286,287,288,289,290,291,292,293,294,295,296], "format": "d", "labelExpr": "datum.value % 2 === 0 ? datum.label : ''"}},
  "y": {"field": "y", "type": "quantitative", "scale": {"domain": [0, 100], "nice": false, "zero": false}, "axis": {"title": "Intensity (a.u.)"}}},
 "layer": [
  {"data": {"name": "k"}, "mark": {"type": "line", "color": "#ff8412"}, "encoding": {}},
  {"data": {"name": "k_r"}, "mark": {"type": "text", "fontSize": 23.5}, "encoding": {"text": {"field": "t"}}},
  {"data": {"name": "k_b"}, "mark": {"type": "text", "fontSize": 22.5, "fontWeight": "bold"}, "encoding": {"text": {"field": "t"}}}
 ]},
{"width": 431, "height": 205,
 "encoding": {"x": {"field": "x", "type": "quantitative", "scale": {"domain": [96, 110], "reverse": true, "nice": false, "zero": false}, "axis": {"title": "Binding Energy (eV)", "values": [96,97,98,99,100,101,102,103,104,105,106,107,108,109,110], "format": "d", "labelExpr": "datum.value % 2 === 0 ? datum.label : ''"}},
  "y": {"field": "y", "type": "quantitative", "scale": {"domain": [0, 100], "nice": false, "zero": false}, "axis": {"title": "Intensity (a. u.)"}}},
 "layer": [
  {"data": {"name": "f"}, "mark": {"type": "line", "color": "#1212c4"}, "encoding": {}},
  {"data": {"name": "f_r"}, "mark": {"type": "text", "fontSize": 23.5}, "encoding": {"text": {"field": "t"}}},
  {"data": {"name": "f_b"}, "mark": {"type": "text", "fontSize": 22.5, "fontWeight": "bold"}, "encoding": {"text": {"field": "t"}}}
 ]},
{"width": 431, "height": 205,
 "encoding": {"x": {"field": "x", "type": "quantitative", "scale": {"domain": [94, 115], "reverse": true, "nice": false, "zero": false}, "axis": {"title": "Binding Energy (eV)", "values": [94,95,96,97,98,99,100,101,102,103,104,105,106,107,108,109,110,111,112,113,114,115], "format": "d", "labelExpr": "datum.value % 2 === 0 ? datum.label : ''"}},
  "y": {"field": "y", "type": "quantitative", "scale": {"domain": [0, 100], "nice": false, "zero": false}, "axis": {"title": "Intensity (a. u.)"}}},
 "layer": [
  {"data": {"name": "l"}, "mark": {"type": "line", "color": "#ff8412"}, "encoding": {}},
  {"data": {"name": "l_r"}, "mark": {"type": "text", "fontSize": 23.5}, "encoding": {"text": {"field": "t"}}},
  {"data": {"name": "l_b"}, "mark": {"type": "text", "fontSize": 22.5, "fontWeight": "bold"}, "encoding": {"text": {"field": "t"}}}
 ]}
]
}
